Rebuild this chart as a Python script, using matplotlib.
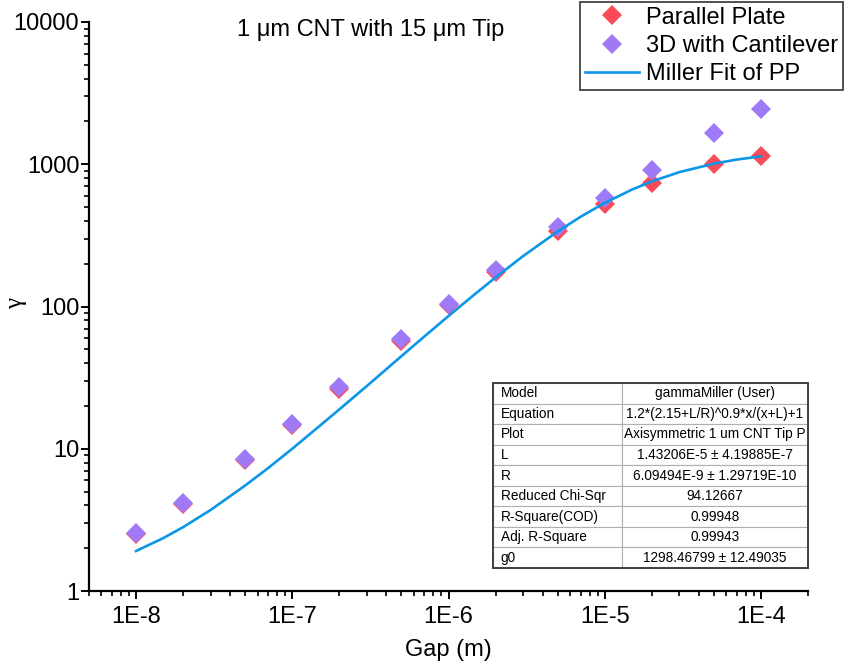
import math

import matplotlib
matplotlib.use("Agg")
import matplotlib.pyplot as plt
from matplotlib.ticker import FixedLocator, FuncFormatter, NullFormatter

plt.rcParams.update({
    "font.family": ["Liberation Sans", "DejaVu Sans"],
    "font.size": 17,
})

RED = "#FA4B59"
PURPLE = "#A07AF6"
BLUE = "#0C96E8"

# gap values (m)
gap = [1e-8, 2e-8, 5e-8, 1e-7, 2e-7, 5e-7, 1e-6, 2e-6, 5e-6, 1e-5, 2e-5, 5e-5, 1e-4]
gamma_pp = [2.5, 4.1, 8.4, 14.8, 26.5, 57.5, 102, 176, 340, 525, 738, 1010, 1135]
gamma_3d = [2.55, 4.15, 8.5, 15.0, 27.0, 59.0, 104, 180, 360, 580, 915, 1660, 2450]

# Miller fit curve
fit_gap = [1e-8, 1.5e-8, 2e-8, 3e-8, 5e-8, 7e-8, 1e-7, 1.5e-7, 2e-7, 3e-7, 5e-7,
           7e-7, 1e-6, 1.5e-6, 2e-6, 3e-6, 5e-6, 7e-6, 1e-5, 1.5e-5, 2e-5, 3e-5,
           5e-5, 7e-5, 1e-4]
fit_gamma = [1.91, 2.36, 2.81, 3.71, 5.52, 7.31, 10.0, 14.5, 18.9, 27.6, 44.8,
             61.5, 85.7, 124, 160, 226, 337, 427, 535, 665, 757, 880,
             1010, 1079, 1136]

table_keys = ["Model", "Equation", "Plot", "L", "R", "Reduced Chi-Sqr",
              "R-Square(COD)", "Adj. R-Square", "g0"]
table_vals = ["gammaMiller (User)", "1.2*(2.15+L/R)^0.9*x/(x+L)+1",
              "Axisymmetric 1 um CNT Tip P", "1.43206E-5 \u00b1 4.19885E-7",
              "6.09494E-9 \u00b1 1.29719E-10", "94.12667", "0.99948", "0.99943",
              "1298.46799 \u00b1 12.49035"]

W, H = 844, 671
fig = plt.figure(figsize=(W / 100, H / 100), dpi=100)
ax = fig.add_axes([89 / W, 1 - 591 / H, (808 - 89) / W, (591 - 22) / H])

ax.plot(gap, gamma_pp, "D", color=RED, ms=10, mew=0, label="Parallel Plate", zorder=3)
ax.plot(gap, gamma_3d, "D", color=PURPLE, ms=10, mew=0, label="3D with Cantilever", zorder=4)
ax.plot(fit_gap, fit_gamma, "-", color=BLUE, lw=1.9, label="Miller Fit of PP", zorder=5)

ax.set_xscale("log")
ax.set_yscale("log")
ax.set_xlim(5e-9, 2e-4)
ax.set_ylim(1, 10000)

ax.xaxis.set_major_locator(FixedLocator([1e-8, 1e-7, 1e-6, 1e-5, 1e-4]))
ax.xaxis.set_major_formatter(FuncFormatter(lambda v, p: f"1E{round(math.log10(v))}"))
ax.xaxis.set_minor_formatter(NullFormatter())
ax.yaxis.set_major_locator(FixedLocator([1, 10, 100, 1000, 10000]))
ax.yaxis.set_major_formatter(FuncFormatter(lambda v, p: f"{int(round(v))}"))
ax.yaxis.set_minor_formatter(NullFormatter())

for s in ("top", "right"):
    ax.spines[s].set_visible(False)
for s in ("left", "bottom"):
    ax.spines[s].set_linewidth(1.6)
ax.tick_params(which="major", length=6, width=1.4, direction="out", labelsize=17)
ax.tick_params(which="minor", length=3.5, width=1.2, direction="out")
ax.tick_params(axis="y", which="major", pad=1)
ax.tick_params(axis="x", which="major", pad=5)

ax.set_xlabel("Gap (m)", fontsize=17, labelpad=8)
ax.set_ylabel("\u03b3", fontsize=18, family=["Liberation Serif", "DejaVu Serif"])
ax.yaxis.set_label_coords((27 - 89) / 719, (591 - 303) / 569)

ax.text(0.391, 0.986, "1 \u03bcm CNT with 15 \u03bcm Tip", transform=ax.transAxes,
        ha="center", va="center", fontsize=17)

leg = fig.legend(loc="lower left", bbox_to_anchor=(580 / W, 1 - 90 / H),
                 frameon=True, fancybox=False, edgecolor="black", fontsize=17,
                 handlelength=2.3, handletextpad=0.3, labelspacing=0.27,
                 borderpad=0.2, borderaxespad=0)
leg.get_frame().set_linewidth(1.2)

# fit results table
tx0, tx1, ty0, ty1 = 493, 808, 383, 568
tab = ax.table(cellText=[[k, v] for k, v in zip(table_keys, table_vals)],
               colWidths=[129, 186], cellLoc="center",
               bbox=[(tx0 - 89) / 719, (591 - ty1) / 569, (tx1 - tx0) / 719, (ty1 - ty0) / 569])
tab.auto_set_font_size(False)
for (r, c), cell in tab.get_celld().items():
    cell.set_fontsize(9.8)
    cell.set_edgecolor("#B0B0B0")
    cell.set_linewidth(0.8)
    if c == 0:
        cell.get_text().set_ha("left")
        cell.PAD = 0.06
tab.set_zorder(6)
ax.add_patch(plt.Rectangle(((tx0 - 89) / 719, (591 - ty1) / 569), (tx1 - tx0) / 719,
                           (ty1 - ty0) / 569, transform=ax.transAxes, fill=False,
                           edgecolor="#404040", lw=1.4, zorder=7, clip_on=False))

fig.savefig("out.png", dpi=100)
